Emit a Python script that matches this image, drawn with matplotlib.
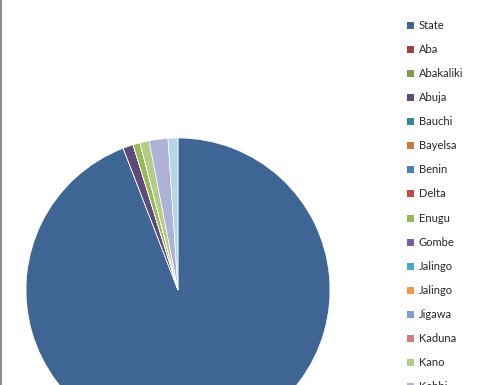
import matplotlib
matplotlib.use("Agg")
import matplotlib.pyplot as plt
from matplotlib.patches import Rectangle
from matplotlib.lines import Line2D

# share of each location (the last one sits below the visible part of the legend)
labels = ["State", "Aba", "Abakaliki", "Abuja", "Bauchi", "Bayelsa", "Benin",
          "Delta", "Enugu", "Gombe", "Jalingo", "Jalingo", "Jigawa", "Kaduna",
          "Kano", "Kebbi", "Kogi"]
values = [94.1, 0, 0, 1.1, 0, 0, 0, 0, 0.75, 0, 0, 0, 0, 0, 0.97, 2.0, 1.05]
colors = ["#3f6595", "#9e413e", "#7f9a48", "#604a7b", "#35869a", "#c97a38",
          "#4a7ebb", "#be4b48", "#98b954", "#7d60a0", "#46aac5", "#f69646",
          "#7f9cc9", "#cd7f7d", "#b3cc8a", "#aeb2d6", "#b5d6e2"]

W, H = 481, 385
fig = plt.figure(figsize=(W / 100, H / 100), dpi=100)
fig.patch.set_facecolor("white")

# pie: centre (178, 290) px, radius 152 px
cx, cy, r = 178, 290, 152
ax = fig.add_axes([(cx - r) / W, (H - cy - r) / H, 2 * r / W, 2 * r / H])
wedges, _ = ax.pie(values, colors=colors, startangle=90, counterclock=False,
                   radius=1, wedgeprops=dict(edgecolor="white", linewidth=0.5))
ax.set_xlim(-1, 1)
ax.set_ylim(-1, 1)
ax.set_axis_off()

# legend on the right; only the entries down to Kebbi fall inside the picture
for i, lab in enumerate(labels[:16]):
    yc = 25.5 + 24.07 * i
    fig.patches.append(Rectangle((407 / W, (H - yc - 3.5) / H), 7 / W, 7 / H,
                                 transform=fig.transFigure, facecolor=colors[i],
                                 edgecolor="none"))
    fig.text(419 / W, (H - yc) / H, lab, fontsize=8, family="Lato",
             color="#262626", va="center", ha="left")

# grey frame edge at the left
fig.add_artist(Line2D([1 / W, 1 / W], [0, 1], transform=fig.transFigure,
                      color="#8c8c8c", linewidth=1.5))

fig.savefig("out.png", dpi=100)
plt.close(fig)
